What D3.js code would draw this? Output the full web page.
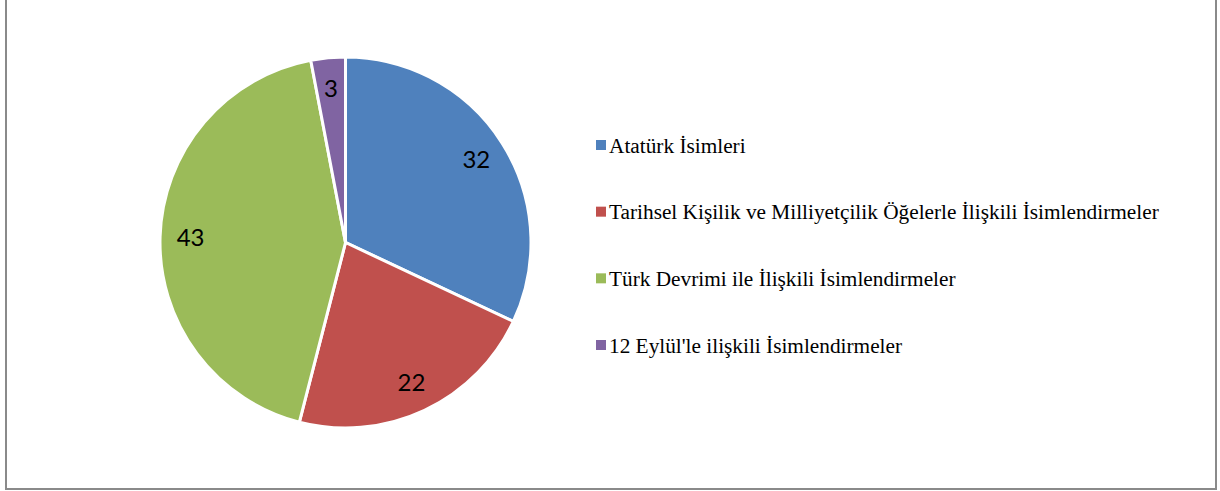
<!DOCTYPE html>
<html><head><meta charset="utf-8">
<script src="https://cdn.jsdelivr.net/npm/d3@7"></script>
</head><body style="margin:0">
<svg id="c" width="1220" height="491" style="display:block"></svg>
<script>
const categories = ["Atatürk İsimleri","Tarihsel Kişilik ve Milliyetçilik Öğelerle İlişkili İsimlendirmeler","Türk Devrimi ile İlişkili İsimlendirmeler","12 Eylül'le ilişkili İsimlendirmeler"];
const values = [32, 22, 43, 3];
const colors = ["#4F81BD","#C0504D","#9BBB59","#8064A2"];

const svg = d3.select("#c");
svg.append("rect").attr("x",6).attr("y",-5).attr("width",1210).attr("height",494)
  .attr("fill","none").attr("stroke","#8a8a8a").attr("stroke-width",2);

const cx = 345.5, cy = 242.5, r = 185.5;
const pie = d3.pie().sort(null).value(d=>d)(values);
const arc = d3.arc().innerRadius(0).outerRadius(r);
const labelArc = d3.arc().innerRadius(155).outerRadius(155);
svg.selectAll("path.slice").data(pie).join("path").attr("class","slice")
  .attr("transform",`translate(${cx},${cy})`)
  .attr("d",arc).attr("fill",(d,i)=>colors[i]).attr("stroke","#fff").attr("stroke-width",3);
pie.forEach(d=>{
  const [lx,ly] = labelArc.centroid(d);
  svg.append("text").attr("x",cx+lx).attr("y",cy+ly+8.5)
    .attr("text-anchor","middle")
    .style("font-family",'"Lato"').style("font-size","24px")
    .text(d.data);
});

const legendY = d3.scalePoint().domain(categories).range([145,345]);
categories.forEach((c,i)=>{
  const y = legendY(c);
  svg.append("rect").attr("x",596).attr("y",y-5).attr("width",10).attr("height",10).attr("fill",colors[i]);
  svg.append("text").attr("x",609).attr("y",y+7.5)
    .style("font-family",'"Liberation Serif"').style("font-size","21.3px")
    .text(c);
});
</script>
</body></html>
